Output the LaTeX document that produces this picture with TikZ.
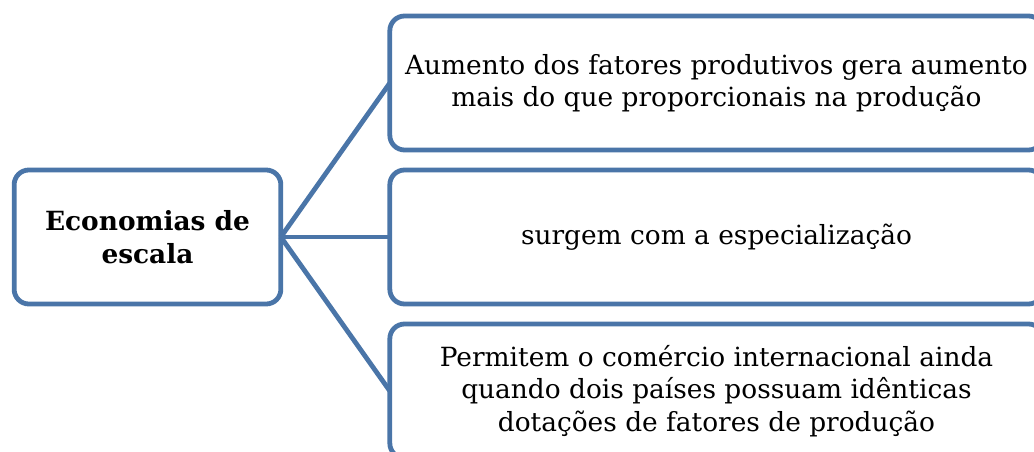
\documentclass[tikz,border=0pt]{standalone}
\usepackage{fontspec}
\setmainfont{DejaVu Serif}
\definecolor{boxblue}{RGB}{74,117,168}
\tikzset{
  mainbox/.style={draw=boxblue,line width=3.6pt,rounded corners=11pt,fill=white,
    minimum width=200pt,minimum height=100.5pt,inner sep=0pt,outer sep=0pt,
    align=center,font=\fontsize{19.8}{24.4}\selectfont\bfseries},
  itembox/.style={mainbox,minimum width=490pt,font=\fontsize{19.8}{24.4}\selectfont},
  link/.style={draw=boxblue,line width=3.6pt}
}
\begin{document}
\begin{tikzpicture}[x=0.75pt,y=-0.75pt]
    \useasboundingbox (0,0) rectangle (1034,452);
    \clip (0,0) rectangle (1034,452);
    % left box
    \node[mainbox] (econ) at (147.5,237) {Economias de\\escala};
    % right boxes
    \node[itembox] (aumento) at (716.5,83)
      {Aumento dos fatores produtivos gera aumento\\mais do que proporcionais na produção};
    \node[itembox] (surgem) at (716.5,237) {surgem com a especialização};
    \node[itembox] (permitem) at (716.5,391)
      {Permitem o comércio internacional ainda\\quando dois países possuam idênticas\\dotações de fatores de produção};
    % connectors
    \draw[link] (econ.east) -- (aumento.west);
    \draw[link] (econ.east) -- (surgem.west);
    \draw[link] (econ.east) -- (permitem.west);
\end{tikzpicture}
\end{document}
